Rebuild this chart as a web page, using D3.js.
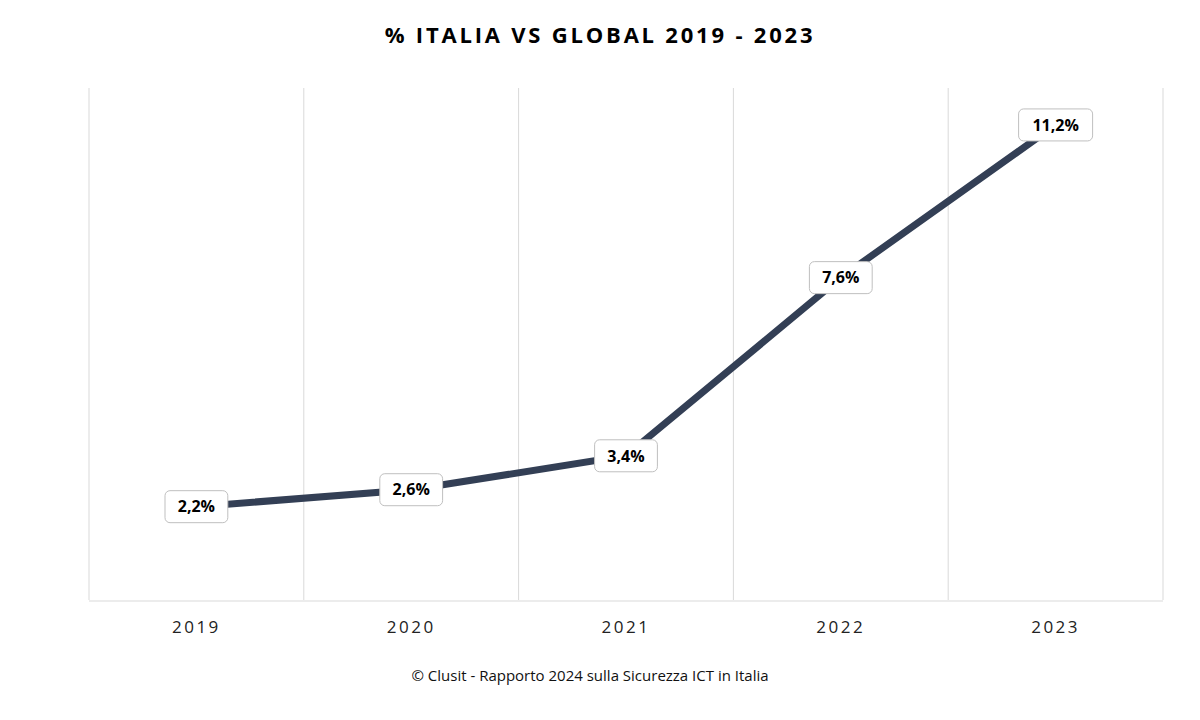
<!DOCTYPE html>
<meta charset="utf-8">
<style>
body { margin: 0; background: #fff; }
text { font-family: "Open Sans", "Noto Sans", sans-serif; }
</style>
<svg width="1200" height="720"></svg>
<script src="https://d3js.org/d3.v7.min.js"></script>
<script>
var years = ["2019", "2020", "2021", "2022", "2023"];
var values = [2.2, 2.6, 3.4, 7.6, 11.2];
var labels = ["2,2%", "2,6%", "3,4%", "7,6%", "11,2%"];

var svg = d3.select("svg");
var plotLeft = 89, plotRight = 1163, plotTop = 88, plotBottom = 600;

var x = d3.scaleBand().domain(years).range([plotLeft, plotRight]);
var y = d3.scaleLinear().domain([0, 12]).range([plotBottom, plotTop + 3]);

svg.append("text")
  .attr("x", 600).attr("y", 43)
  .attr("text-anchor", "middle")
  .style("font-size", "22px").style("font-weight", "bold")
  .style("letter-spacing", "2.8px")
  .text("% ITALIA VS GLOBAL 2019 - 2023");

// vertical gridlines at band edges
var edges = years.map(function(d) { return x(d); }).concat([plotRight]);
svg.selectAll(".grid").data(edges).enter().append("line")
  .attr("x1", function(d) { return d; }).attr("x2", function(d) { return d; })
  .attr("y1", plotTop).attr("y2", plotBottom)
  .attr("stroke", "#d9d9d9").attr("stroke-width", 1);

svg.append("line")
  .attr("x1", plotLeft).attr("x2", plotRight).attr("y1", plotBottom + 1).attr("y2", plotBottom + 1)
  .attr("stroke", "#d9d9d9");

var ax = svg.append("g").attr("transform", "translate(0," + plotBottom + ")")
  .call(d3.axisBottom(x).tickSize(0).tickPadding(21));
ax.select(".domain").remove();
ax.selectAll("text")
  .style("font-family", "'Open Sans', sans-serif")
  .style("font-size", "17px").style("letter-spacing", "2.5px").attr("fill", "#222");

var data = years.map(function(d, i) { return {year: d, value: values[i], label: labels[i]}; });

var line = d3.line()
  .x(function(d) { return x(d.year) + x.bandwidth() / 2; })
  .y(function(d) { return y(d.value); });

svg.append("path").datum(data)
  .attr("d", line).attr("fill", "none")
  .attr("stroke", "#333f55").attr("stroke-width", 7);

var lab = svg.selectAll(".lab").data(data).enter().append("g")
  .attr("transform", function(d) {
    return "translate(" + (x(d.year) + x.bandwidth() / 2) + "," + y(d.value) + ")";
  });
lab.append("rect")
  .attr("x", function(d) { return -(d.label.length * 5.6 + 9); })
  .attr("width", function(d) { return d.label.length * 11.2 + 18; })
  .attr("y", -16).attr("height", 32).attr("rx", 5)
  .attr("fill", "#fff").attr("stroke", "#bfbfbf");
lab.append("text")
  .attr("text-anchor", "middle").attr("dy", "0.36em")
  .style("font-size", "16px").style("font-weight", "bold")
  .text(function(d) { return d.label; });

svg.append("text")
  .attr("x", 590).attr("y", 681)
  .attr("text-anchor", "middle")
  .style("font-size", "15px").attr("fill", "#111")
  .text("© Clusit - Rapporto 2024 sulla Sicurezza ICT in Italia");
</script>
